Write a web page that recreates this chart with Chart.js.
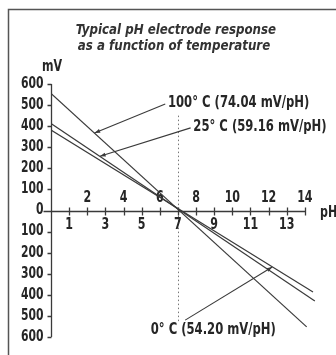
<!DOCTYPE html>
<html>
<head>
<meta charset="utf-8">
<script src="https://cdn.jsdelivr.net/npm/chart.js@4.4.1/dist/chart.umd.min.js"></script>
<style>
  html, body { margin: 0; padding: 0; background: #fff; }
  #wrap { width: 336px; height: 355px; position: relative; }
</style>
</head>
<body>
<div id="wrap"><canvas id="phChart"></canvas></div>
<script>
// electrode response lines (pH, mV)
const line100C = [{ x: 0, y: 555 }, { x: 14.1, y: -552 }];
const line25C = [{ x: 0, y: 413 }, { x: 14.55, y: -429 }];
const line0C = [{ x: 0, y: 382 }, { x: 14.45, y: -387 }];

const xTicks = [1, 2, 3, 4, 5, 6, 7, 8, 9, 10, 11, 12, 13, 14];
const yTicks = [-600, -500, -400, -300, -200, -100, 0, 100, 200, 300, 400, 500, 600];

const titleLines = ["Typical pH electrode response", "as a function of temperature"];

// labels with leader arrows: text anchor and arrow tip in data units
const callouts = [
    { text: "100\u00b0 C (74.04 mV/pH)", at: { x: 6.45, y: 510 }, from: { x: 6.3, y: 505 }, tip: { x: 2.4, y: 368 } },
    { text: "25\u00b0 C (59.16 mV/pH)", at: { x: 7.85, y: 396 }, from: { x: 7.7, y: 392 }, tip: { x: 2.7, y: 257 } },
    { text: "0\u00b0 C (54.20 mV/pH)", at: { x: 5.5, y: -568 }, from: { x: 7.4, y: -520 }, tip: { x: 12.2, y: -268 } }
];

const FONT = '"Liberation Sans Narrow", "DejaVu Sans Condensed", "Liberation Sans", sans-serif';
const INK = "#3a3a3a";
const TEXT = "#262626";

// condensed look: squeeze text horizontally
function drawText(ctx, text, px, py, align, sx) {
    ctx.save();
    ctx.translate(px, py);
    ctx.scale(sx, 1);
    ctx.textAlign = align;
    ctx.textBaseline = "middle";
    ctx.fillText(text, 0, 0);
    ctx.restore();
}

const decorPlugin = {
    id: "decor",
    beforeDatasetsDraw(chart) {
        const { ctx, scales: { x, y } } = chart;
        ctx.save();

        // frame (top + left edge)
        ctx.strokeStyle = "#555";
        ctx.lineWidth = 1.5;
        ctx.beginPath();
        ctx.moveTo(8.5, 355);
        ctx.lineTo(8.5, 9.5);
        ctx.lineTo(336, 9.5);
        ctx.stroke();

        // title
        ctx.fillStyle = "#333";
        ctx.font = "italic bold 14px " + FONT;
        drawText(ctx, titleLines[0], 176, 30, "center", 0.94);
        drawText(ctx, titleLines[1], 174, 46, "center", 0.94);

        // dotted pH 7 line
        const x7 = Math.round(x.getPixelForValue(7)) + 0.5;
        ctx.strokeStyle = "#777";
        ctx.lineWidth = 1;
        ctx.setLineDash([1.5, 2.5]);
        ctx.beginPath();
        ctx.moveTo(x7, y.getPixelForValue(450));
        ctx.lineTo(x7, y.getPixelForValue(-530));
        ctx.stroke();
        ctx.setLineDash([]);

        // y axis with bracket ticks
        const x0 = Math.round(x.getPixelForValue(0)) + 0.5;
        ctx.strokeStyle = INK;
        ctx.lineWidth = 1.3;
        ctx.beginPath();
        ctx.moveTo(x0, y.getPixelForValue(600));
        ctx.lineTo(x0, y.getPixelForValue(-600));
        yTicks.forEach(v => {
            if (v === 0) return;
            const py = Math.round(y.getPixelForValue(v)) + 0.5;
            ctx.moveTo(x0 - 4, py);
            ctx.lineTo(x0, py);
        });
        ctx.stroke();

        ctx.fillStyle = TEXT;
        ctx.font = "bold 15px " + FONT;
        yTicks.forEach(v => {
            drawText(ctx, String(Math.abs(v)), x0 - 8, y.getPixelForValue(v), "right", 0.8);
        });
        drawText(ctx, "mV", 42, 67, "left", 0.82);

        // x axis through 0 mV
        const y0 = Math.round(y.getPixelForValue(0)) + 0.5;
        ctx.beginPath();
        ctx.moveTo(x0 - 8, y0);
        ctx.lineTo(x.getPixelForValue(14) + 1, y0);
        xTicks.forEach(v => {
            const px = Math.round(x.getPixelForValue(v)) + 0.5;
            ctx.moveTo(px, y0 - 4);
            ctx.lineTo(px, y0 + 4);
        });
        ctx.stroke();

        xTicks.forEach(v => {
            const px = x.getPixelForValue(v);
            drawText(ctx, String(v), px, v % 2 === 0 ? y0 - 13 : y0 + 14, "center", 0.82);
        });
        drawText(ctx, "pH", 320, y0 + 2, "left", 0.82);

        ctx.restore();
    },
    afterDatasetsDraw(chart) {
        const { ctx, scales: { x, y } } = chart;
        ctx.save();
        ctx.strokeStyle = INK;
        ctx.lineWidth = 1.1;
        callouts.forEach(c => {
            const fx = x.getPixelForValue(c.from.x), fy = y.getPixelForValue(c.from.y);
            const tx = x.getPixelForValue(c.tip.x), ty = y.getPixelForValue(c.tip.y);
            ctx.beginPath();
            ctx.moveTo(fx, fy);
            ctx.lineTo(tx, ty);
            ctx.stroke();
            // arrowhead
            const a = Math.atan2(ty - fy, tx - fx);
            ctx.fillStyle = INK;
            ctx.beginPath();
            ctx.moveTo(tx, ty);
            ctx.lineTo(tx - 6 * Math.cos(a - 0.35), ty - 6 * Math.sin(a - 0.35));
            ctx.lineTo(tx - 6 * Math.cos(a + 0.35), ty - 6 * Math.sin(a + 0.35));
            ctx.closePath();
            ctx.fill();

            ctx.fillStyle = TEXT;
            ctx.font = "bold 15px " + FONT;
            drawText(ctx, c.text, x.getPixelForValue(c.at.x), y.getPixelForValue(c.at.y), "left", 0.86);
        });
        ctx.restore();
    }
};

const lineStyle = { borderColor: INK, borderWidth: 1.2, pointRadius: 0, fill: false, tension: 0 };

new Chart(document.getElementById("phChart"), {
    type: "scatter",
    data: {
        datasets: [
            { label: "100\u00b0 C", data: line100C, showLine: true, ...lineStyle },
            { label: "25\u00b0 C", data: line25C, showLine: true, ...lineStyle },
            { label: "0\u00b0 C", data: line0C, showLine: true, ...lineStyle }
        ]
    },
    options: {
        responsive: true,
        maintainAspectRatio: false,
        animation: false,
        events: [],
        layout: { padding: { left: 51, right: 13, top: 84, bottom: 18 } },
        plugins: { legend: { display: false }, tooltip: { enabled: false } },
        scales: {
            x: { type: "linear", min: 0, max: 15, display: false },
            y: { type: "linear", min: -600, max: 600, display: false }
        }
    },
    plugins: [decorPlugin]
});
</script>
</body>
</html>
